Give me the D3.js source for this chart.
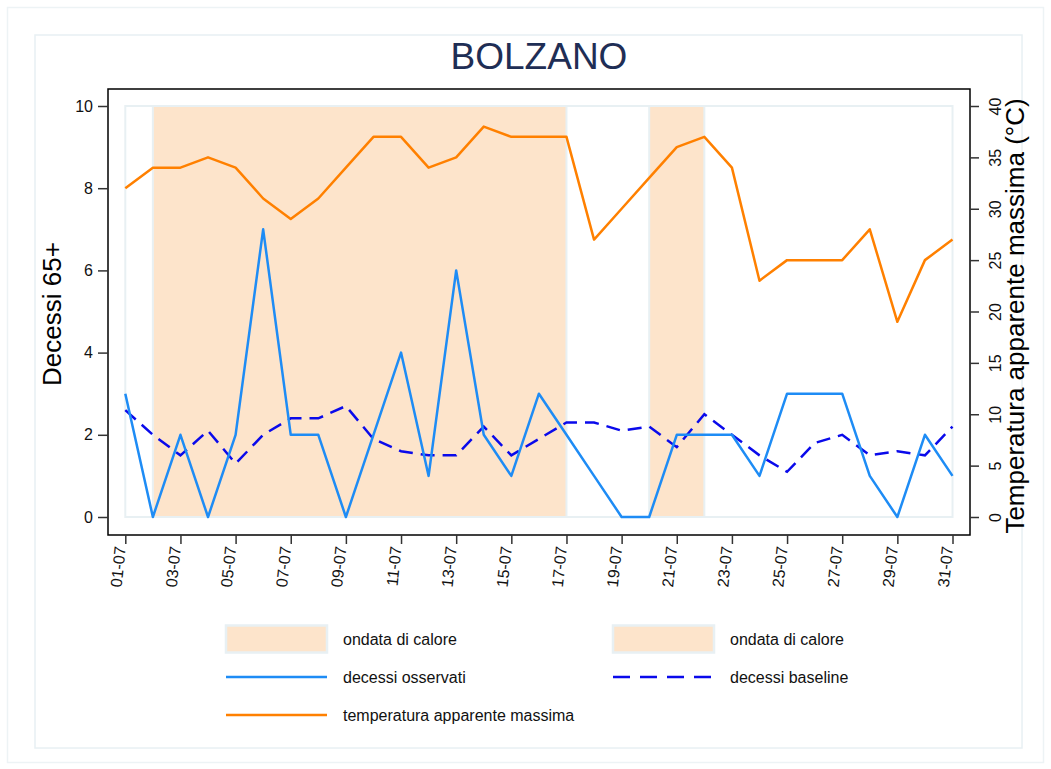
<!DOCTYPE html>
<html>
<head>
<meta charset="utf-8">
<script src="https://cdn.jsdelivr.net/npm/d3@7"></script>
<style>
  body { margin: 0; background: #fff; }
  svg { display: block; font-family: "Liberation Sans", Arial, sans-serif; }
</style>
</head>
<body>
<svg id="chart" width="1051" height="769"></svg>
<script>
// ---- data ----
const days = ["01-07","02-07","03-07","04-07","05-07","06-07","07-07","08-07","09-07","10-07",
  "11-07","12-07","13-07","14-07","15-07","16-07","17-07","18-07","19-07","20-07",
  "21-07","22-07","23-07","24-07","25-07","26-07","27-07","28-07","29-07","30-07","31-07"];
const tickLabels = ["01-07","03-07","05-07","07-07","09-07","11-07","13-07","15-07",
  "17-07","19-07","21-07","23-07","25-07","27-07","29-07","31-07"];
const observed = [3,0,2,0,2,7,2,2,0,2,4,1,6,2,1,3,2,1,0,0,2,2,2,1,3,3,3,1,0,2,1];
const baseline = [2.6,2.0,1.5,2.1,1.3,2.0,2.4,2.4,2.7,1.9,1.6,1.5,1.5,2.2,1.5,1.9,2.3,2.3,2.1,2.2,
  1.7,2.5,2.0,1.5,1.1,1.8,2.0,1.5,1.6,1.5,2.2];
const temperature = [32,34,34,35,34,31,29,31,34,37,37,34,35,38,37,37,37,27,30,33,36,37,34,23,25,25,25,28,19,25,27];
const waveStart = ["02-07","20-07"];
const waveEnd = ["17-07","22-07"];
const leftTicks = [0,2,4,6,8,10];
const rightTicks = [0,5,10,15,20,25,30,35,40];

// ---- layout ----
const svg = d3.select("#chart");
const box = {left: 108, right: 970, top: 89, bottom: 535};
const x = d3.scalePoint().domain(days).range([125.3, 952.5]);
const yL = d3.scaleLinear().domain([0, 10]).range([517, 106]);
const yR = d3.scaleLinear().domain([0, 40]).range([517, 106]);

const cObs = "#1e8cf5", cBase = "#0a0aeb", cTemp = "#ff8000", cWave = "#fde4cb", cEdge = "#e8f0f3";

// frames
svg.append("rect").attr("x", 7.5).attr("y", 7.5).attr("width", 1036).attr("height", 755)
  .attr("fill", "#fff").attr("stroke", "#edf3f5").attr("stroke-width", 1.5);
svg.append("rect").attr("x", 35).attr("y", 35).attr("width", 987).attr("height", 713)
  .attr("fill", "#fff").attr("stroke", "#e8f0f3").attr("stroke-width", 1.5);

// title
svg.append("text").attr("x", 539).attr("y", 68.5).attr("text-anchor", "middle")
  .attr("font-size", 37).attr("fill", "#1f2e55").text("BOLZANO");

// plot area background
svg.append("rect").attr("x", x(days[0])).attr("y", yL(10))
  .attr("width", x(days[days.length - 1]) - x(days[0])).attr("height", yL(0) - yL(10))
  .attr("fill", "#fff").attr("stroke", cEdge).attr("stroke-width", 2);

// heat waves
svg.selectAll("rect.wave").data(waveStart.map((s, i) => [s, waveEnd[i]])).enter()
  .append("rect").attr("class", "wave")
  .attr("x", d => x(d[0])).attr("y", yL(10))
  .attr("width", d => x(d[1]) - x(d[0])).attr("height", yL(0) - yL(10))
  .attr("fill", cWave).attr("stroke", cEdge).attr("stroke-width", 2);

// lines
const idx = d3.range(days.length);
const lineL = arr => d3.line().x(i => x(days[i])).y(i => yL(arr[i]))(idx);
const lineR = arr => d3.line().x(i => x(days[i])).y(i => yR(arr[i]))(idx);

svg.append("path").attr("d", lineR(temperature)).attr("fill", "none")
  .attr("stroke", cTemp).attr("stroke-width", 2.5).attr("stroke-linejoin", "round");
svg.append("path").attr("d", lineL(baseline)).attr("fill", "none")
  .attr("stroke", cBase).attr("stroke-width", 2.5).attr("stroke-dasharray", "14,8");
svg.append("path").attr("d", lineL(observed)).attr("fill", "none")
  .attr("stroke", cObs).attr("stroke-width", 2.5).attr("stroke-linejoin", "round");

// plot box
svg.append("rect").attr("x", box.left).attr("y", box.top)
  .attr("width", box.right - box.left).attr("height", box.bottom - box.top)
  .attr("fill", "none").attr("stroke", "#000").attr("stroke-width", 1.5);

// left axis
const gL = svg.append("g").attr("transform", `translate(${box.left},0)`)
  .call(d3.axisLeft(yL).tickValues(leftTicks).tickSize(10).tickPadding(5));
gL.select(".domain").remove();
gL.selectAll("line").attr("stroke", "#333").attr("stroke-width", 1.5);
gL.selectAll("text").attr("font-size", 16).attr("fill", "#111").attr("font-family", null);

// right axis
const gR = svg.append("g").attr("transform", `translate(${box.right},0)`)
  .call(d3.axisRight(yR).tickValues(rightTicks).tickSize(9));
gR.select(".domain").remove();
gR.selectAll("line").attr("stroke", "#333").attr("stroke-width", 1.5);
gR.selectAll("text").attr("font-size", 16).attr("fill", "#111").attr("font-family", null)
  .attr("x", null).attr("dy", null)
  .attr("text-anchor", "middle")
  .attr("transform", "translate(31,0) rotate(-90)");

// bottom axis
const gB = svg.append("g").attr("transform", `translate(0,${box.bottom})`)
  .call(d3.axisBottom(x).tickValues(tickLabels).tickSize(9));
gB.select(".domain").remove();
gB.selectAll("line").attr("stroke", "#333").attr("stroke-width", 1.5);
gB.selectAll("text").attr("font-size", 16).attr("fill", "#111").attr("font-family", null)
  .attr("y", null).attr("dy", null)
  .attr("text-anchor", "end")
  .attr("transform", "translate(0,12) rotate(-84)");

// axis titles
svg.append("text").attr("transform", "translate(61,314) rotate(-90)")
  .attr("text-anchor", "middle").attr("font-size", 26).attr("fill", "#000").text("Decessi 65+");
svg.append("text").attr("transform", "translate(1024,316) rotate(-90)")
  .attr("text-anchor", "middle").attr("font-size", 26).attr("fill", "#000")
  .text("Temperatura apparente massima (\u00B0C)");

// legend
const leg = svg.append("g");
const legItems = [
  {type: "rect", col: 0, row: 0, label: "ondata di calore"},
  {type: "rect", col: 1, row: 0, label: "ondata di calore"},
  {type: "line", col: 0, row: 1, label: "decessi osservati", color: cObs, dash: null},
  {type: "line", col: 1, row: 1, label: "decessi baseline", color: cBase, dash: "17,10"},
  {type: "line", col: 0, row: 2, label: "temperatura apparente massima", color: cTemp, dash: null}
];
const colX = [226, 613], rowY = [639, 677, 715];
legItems.forEach(it => {
  const x0 = colX[it.col], y0 = rowY[it.row];
  if (it.type === "rect") {
    leg.append("rect").attr("x", x0).attr("y", y0 - 13.5).attr("width", 101).attr("height", 27)
      .attr("fill", cWave).attr("stroke", cEdge).attr("stroke-width", 2.5);
  } else {
    leg.append("line").attr("x1", x0).attr("x2", x0 + 101).attr("y1", y0).attr("y2", y0)
      .attr("stroke", it.color).attr("stroke-width", 2.5)
      .attr("stroke-dasharray", it.dash);
  }
  leg.append("text").attr("x", x0 + 117).attr("y", y0 + 6).attr("font-size", 16)
    .attr("fill", "#111").text(it.label);
});
</script>
</body>
</html>
